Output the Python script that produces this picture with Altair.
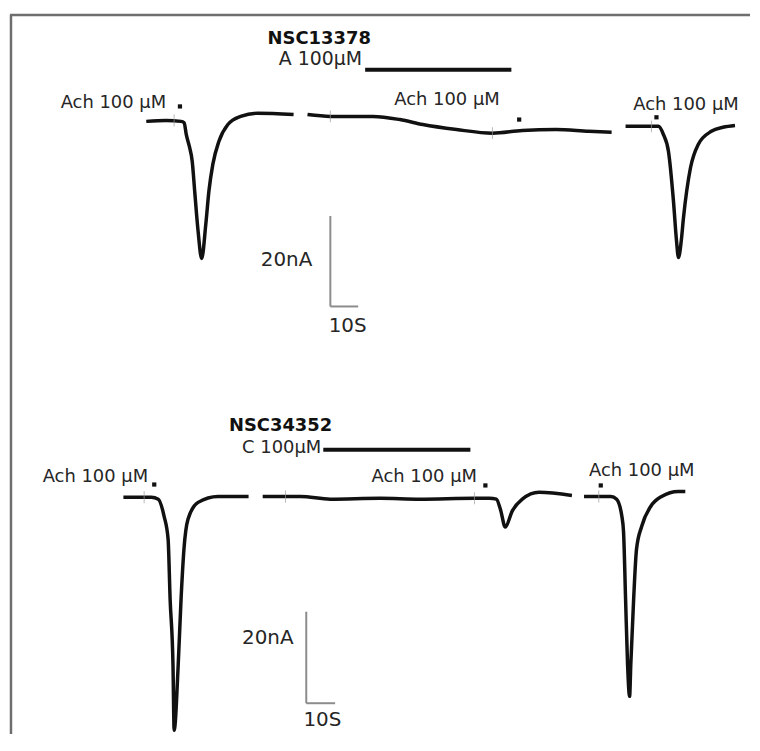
import altair as alt
import pandas as pd

# ---------------- TOP PANEL: NSC13378 (time in s, current in nA) ----------------
top_seg1_t = [0, 7.1, 12.5, 13.6, 14.4, 15.5, 16.5, 17.4, 18.6, 19.9, 21.4, 22.5, 23.9, 26.1, 29.3, 33.9, 40, 52.9]
top_seg1_i = [0, 0.2, 0, -0.3, -3.0, -5.6, -8.8, -15.5, -24.2, -30.3, -22.6, -15.4, -9.5, -4.4, -0.7, 1.1, 1.8, 1.5]
top_seg2_t = [57.9, 66.1, 81.4, 91.1, 99.3, 111.4, 124.3, 135, 147.1, 158.9, 167.1]
top_seg2_i = [1.5, 1.1, 1.1, 0.4, -0.7, -1.8, -2.6, -2.0, -1.8, -2.2, -2.4]
top_seg3_t = [172.1, 181.4, 183.9, 185.7, 187.5, 189.3, 190.4, 191.1, 192.1, 192.9, 195.4, 198.2, 202.9, 207.1, 211.4]
top_seg3_i = [-1.1, -1.1, -1.1, -2.9, -6.6, -17.6, -26.4, -30.1, -26.4, -21.3, -10.3, -5.1, -2.2, -1.3, -0.9]
top_tick_t = [10, 66.1, 124.3, 181.4]
top_tick_i = [0.2, 1.1, -2.6, -1.1]
top_dot_t = [12.1, 133.9, 183.2]
top_dot_i = [3.3, 0.4, 0.9]
top_drug_t = [78.6, 131.1]
top_drug_i = 11.4
top_scale_t0, top_scale_i0 = 66.1, -40.9
top_xdom = [-48.93, 216.79]
top_ydom = [-57.58, 24.62]
top_labels_c = ["NSC13378", "Ach 100 μM", "Ach 100 μM", "Ach 100 μM", "10S"]
top_labels_c_t = [62.1, -11.8, 108.0, 193.8, 72.3]
top_labels_c_i = [17.1, 2.9, 3.7, 2.6, -46.6]
top_labels_c_bold = [True, False, False, False, False]
top_labels_c_size = [18, 18, 18, 18, 20]
top_labels_r = ["A 100μM", "20nA"]
top_labels_r_t = [77.5, 59.6]
top_labels_r_i = [12.5, -31.9]
top_labels_r_size = [19, 20]

# ---------------- BOTTOM PANEL: NSC34352 ----------------
bot_seg1_t = [0, 6.2, 9.7, 12.1, 14.1, 15.5, 16.2, 17.2, 17.6, 19.0, 20.0, 21.0, 22.4, 25.9, 32.8, 43.4]
bot_seg1_i = [0, 0, 0, -0.4, -4.1, -9.1, -22.2, -36.7, -50.9, -36.7, -22.2, -11.3, -4.8, -1.1, 0.2, 0.2]
bot_seg2_t = [48.3, 56.2, 61.4, 71.7, 89.0, 102.8, 121.7, 126.9, 129.3, 130.7, 132.4, 134.8, 138.3, 144.1, 155.5]
bot_seg2_i = [0.2, 0.2, 0.2, -0.4, -0.2, -0.4, -0.2, -0.2, -0.4, -2.6, -6.5, -3.0, -0.4, 1.1, 0.4]
bot_seg3_t = [159.7, 164.8, 169.0, 171.0, 172.8, 173.4, 174.1, 174.8, 175.5, 175.9, 176.9, 177.9, 179.7, 182.8, 186.6, 192.4, 194.8]
bot_seg3_i = [0.2, 0.2, 0.2, -0.4, -4.1, -7.6, -22.2, -36.7, -43.5, -36.7, -22.2, -11.3, -6.3, -2.0, 0.2, 1.3, 1.3]
bot_tick_t = [7.2, 56.2, 121.7, 164.8]
bot_tick_i = [0, 0.2, -0.2, 0.2]
bot_dot_t = [10.7, 125.5, 165.5]
bot_dot_i = [2.8, 2.6, 2.6]
bot_drug_t = [69.3, 120.3]
bot_drug_i = 10.4
bot_scale_t0, bot_scale_i0 = 63.4, -45.0
bot_xdom = [-39.31, 217.24]
bot_ydom = [-51.74, 25.22]
bot_labels_c = ["NSC34352", "Ach 100 μM", "Ach 100 μM", "Ach 100 μM", "10S"]
bot_labels_c_t = [54.5, -9.7, 104.3, 179.7, 69.0]
bot_labels_c_i = [14.5, 3.3, 3.3, 4.6, -50.0]
bot_labels_c_bold = [True, False, False, False, False]
bot_labels_c_size = [18, 18, 18, 18, 20]
bot_labels_r = ["C 100μM", "20nA"]
bot_labels_r_t = [68.6, 59.0]
bot_labels_r_i = [9.6, -32.0]
bot_labels_r_size = [18, 20]

FONT = "DejaVu Sans"
TRACE = "#111111"
TEXT = "#262626"
GREY = "#8c8c8c"
W = 744


def build_panel(segs, ticks, dots, drug_t, drug_i, sc_t0, sc_i0, xdom, ydom,
                lab_c, lab_r, w, h, top_border):
    x_sc = alt.Scale(domain=xdom, nice=False, zero=False)
    y_sc = alt.Scale(domain=ydom, nice=False, zero=False)

    rows = []
    for k, (ts, is_) in enumerate(segs):
        for n, (a, b) in enumerate(zip(ts, is_)):
            rows.append({"t": a, "i": b, "seg": k, "n": n})
    trace = pd.DataFrame(rows)

    X = alt.X("t:Q", scale=x_sc, axis=None)
    Y = alt.Y("i:Q", scale=y_sc, axis=None)

    line = alt.Chart(trace).mark_line(
        color=TRACE, strokeWidth=3.5, strokeJoin="round", strokeCap="butt",
        interpolate="monotone"
    ).encode(x=X, y=Y, detail="seg:N", order="n:Q")

    tick_df = pd.DataFrame({"t": ticks[0], "i": ticks[1]})
    tick = alt.Chart(tick_df).mark_tick(
        orient="vertical", color="#9a9a9a", size=12, thickness=1
    ).encode(x=X, y=Y)

    dot_df = pd.DataFrame({"t": dots[0], "i": dots[1]})
    dot = alt.Chart(dot_df).mark_square(size=18, color=TRACE, opacity=1).encode(x=X, y=Y)

    drug_df = pd.DataFrame({"t": [drug_t[0]], "t2": [drug_t[1]], "i": [drug_i]})
    drug = alt.Chart(drug_df).mark_rule(color=TRACE, strokeWidth=4).encode(
        x=X, x2="t2:Q", y=Y)

    sb_df = pd.DataFrame({
        "t": [sc_t0, sc_t0], "i": [sc_i0, sc_i0],
        "t2": [sc_t0, sc_t0 + 10], "i2": [sc_i0 + 20, sc_i0],
    })
    sbar = alt.Chart(sb_df).mark_rule(color=GREY, strokeWidth=2).encode(
        x=X, y=Y, x2="t2:Q", y2="i2:Q")

    texts = []
    c_df = pd.DataFrame({"t": lab_c[1], "i": lab_c[2], "label": lab_c[0]})
    for idx in range(len(c_df)):
        bold = lab_c[3][idx]
        texts.append(alt.Chart(c_df.iloc[[idx]]).mark_text(
            font=FONT, fontSize=lab_c[4][idx], fontWeight="bold" if bold else "normal",
            color="#111111" if bold else TEXT, align="center", baseline="alphabetic"
        ).encode(x=X, y=Y, text="label:N"))
    r_df = pd.DataFrame({"t": lab_r[1], "i": lab_r[2], "label": lab_r[0]})
    for idx in range(len(r_df)):
        texts.append(alt.Chart(r_df.iloc[[idx]]).mark_text(
            font=FONT, fontSize=lab_r[3][idx], color=TEXT, align="right",
            baseline="alphabetic"
        ).encode(x=X, y=Y, text="label:N"))

    one = pd.DataFrame({"a": [0]})
    frame = [alt.Chart(one).mark_rule(color="#6e6e6e", strokeWidth=2.5).encode(
        x=alt.value(1), y=alt.value(5 if top_border else 0), y2=alt.value(h))]
    if top_border:
        frame.append(alt.Chart(one).mark_rule(color="#6e6e6e", strokeWidth=2.5).encode(
            x=alt.value(0), x2=alt.value(w), y=alt.value(5)))

    return alt.layer(*frame, sbar, drug, line, tick, dot, *texts).properties(
        width=w, height=h)


top = build_panel(
    [(top_seg1_t, top_seg1_i), (top_seg2_t, top_seg2_i), (top_seg3_t, top_seg3_i)],
    (top_tick_t, top_tick_i), (top_dot_t, top_dot_i), top_drug_t, top_drug_i,
    top_scale_t0, top_scale_i0, top_xdom, top_ydom,
    (top_labels_c, top_labels_c_t, top_labels_c_i, top_labels_c_bold, top_labels_c_size),
    (top_labels_r, top_labels_r_t, top_labels_r_i, top_labels_r_size),
    W, 374, True)

bottom = build_panel(
    [(bot_seg1_t, bot_seg1_i), (bot_seg2_t, bot_seg2_i), (bot_seg3_t, bot_seg3_i)],
    (bot_tick_t, bot_tick_i), (bot_dot_t, bot_dot_i), bot_drug_t, bot_drug_i,
    bot_scale_t0, bot_scale_i0, bot_xdom, bot_ydom,
    (bot_labels_c, bot_labels_c_t, bot_labels_c_i, bot_labels_c_bold, bot_labels_c_size),
    (bot_labels_r, bot_labels_r_t, bot_labels_r_i, bot_labels_r_size),
    W, 354, False)

chart = alt.vconcat(top, bottom, spacing=0, bounds="flush").properties(
    padding=0, background="white"
).configure_view(stroke=None).configure_concat(spacing=0)

chart.save("out.html", embed_options={"renderer": "svg", "actions": False})
